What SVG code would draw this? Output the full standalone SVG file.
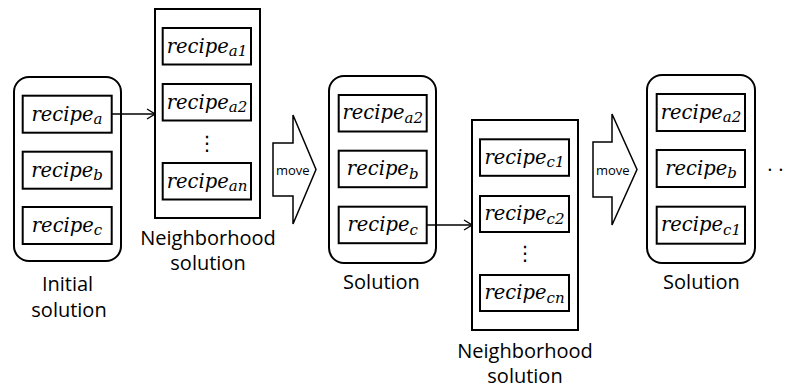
<svg xmlns="http://www.w3.org/2000/svg" width="788" height="388" viewBox="0 0 788 388">
<defs>
<style>
.outer{fill:#fff;stroke:#000;stroke-width:2}
.box{fill:#fff;stroke:#000;stroke-width:2}
.r{font-family:"DejaVu Serif","Liberation Serif",serif;font-style:italic;font-size:19.5px;text-anchor:middle;fill:#000}
.s{font-size:15px}
.lbl{font-family:"Open Sans","Liberation Sans",sans-serif;font-size:20px;text-anchor:middle;fill:#000}
.mv{font-family:"Open Sans","Liberation Sans",sans-serif;font-size:13px;fill:#000}
.move{fill:#fff;stroke:#000;stroke-width:1.5;stroke-linejoin:miter}
.conn{stroke:#000;stroke-width:1.3;fill:none}
.vd{font-family:"DejaVu Sans",sans-serif;font-size:20px;text-anchor:middle;fill:#000}
</style>
<marker id="ah" markerWidth="10" markerHeight="12" refX="9" refY="6" orient="auto" markerUnits="userSpaceOnUse">
<path d="M1,1 L9,6 L1,11" fill="none" stroke="#000" stroke-width="1.3"/>
</marker>
</defs>
<rect width="788" height="388" fill="#fff"/>

<g id="initial">
<rect class="outer" x="14" y="77" width="107" height="184" rx="15"/>
<rect class="box" x="22.7" y="95.7" width="89" height="37"/>
<text class="r" x="67" y="120.5">recipe<tspan class="s" dy="3.5">a</tspan></text>
<rect class="box" x="22.7" y="151.7" width="89" height="37"/>
<text class="r" x="67" y="176.5">recipe<tspan class="s" dy="3.5">b</tspan></text>
<rect class="box" x="22.7" y="207" width="89" height="37"/>
<text class="r" x="67" y="231.8">recipe<tspan class="s" dy="3.5">c</tspan></text>
<text class="lbl" x="67.5" y="291">Initial</text>
<text class="lbl" x="69" y="316.5">solution</text>
</g>

<g id="neighborhood1">
<rect class="outer" x="155" y="9" width="105" height="209"/>
<rect class="box" x="162.7" y="28" width="88.3" height="36.5"/>
<text class="r" x="207" y="52.5">recipe<tspan class="s" dy="3.5">a1</tspan></text>
<rect class="box" x="162.7" y="84" width="88.3" height="36.5"/>
<text class="r" x="207" y="108.5">recipe<tspan class="s" dy="3.5">a2</tspan></text>
<text class="vd" x="207" y="150">⋮</text>
<rect class="box" x="162.7" y="163" width="88.3" height="36.5"/>
<text class="r" x="207" y="187.5">recipe<tspan class="s" dy="3.5">an</tspan></text>
<text class="lbl" x="208" y="245">Neighborhood</text>
<text class="lbl" x="208" y="270">solution</text>
</g>

<g id="move1">
<polygon class="move" points="273,143 293,143 293,115 316,169.5 293,224 293,196 273,196"/>
<text class="mv" x="276" y="175">move</text>
</g>

<g id="solution2">
<rect class="outer" x="329" y="76" width="107" height="187" rx="15"/>
<rect class="box" x="338.7" y="95" width="88" height="36.5"/>
<text class="r" x="382.7" y="119">recipe<tspan class="s" dy="3.5">a2</tspan></text>
<rect class="box" x="338.7" y="150.7" width="88" height="36.5"/>
<text class="r" x="382.7" y="175">recipe<tspan class="s" dy="3.5">b</tspan></text>
<rect class="box" x="338.7" y="206.7" width="88" height="36.5"/>
<text class="r" x="382.7" y="231">recipe<tspan class="s" dy="3.5">c</tspan></text>
<text class="lbl" x="381.5" y="289">Solution</text>
</g>

<g id="neighborhood2">
<rect class="outer" x="472" y="120" width="106" height="210"/>
<rect class="box" x="480" y="139.3" width="89" height="36.5"/>
<text class="r" x="524.5" y="163.8">recipe<tspan class="s" dy="3.5">c1</tspan></text>
<rect class="box" x="480" y="196" width="89" height="36"/>
<text class="r" x="524.5" y="220.2">recipe<tspan class="s" dy="3.5">c2</tspan></text>
<text class="vd" x="525" y="260">⋮</text>
<rect class="box" x="480" y="275" width="89" height="36"/>
<text class="r" x="524.5" y="299.2">recipe<tspan class="s" dy="3.5">cn</tspan></text>
<text class="lbl" x="525" y="358">Neighborhood</text>
<text class="lbl" x="525" y="382.5">solution</text>
</g>

<g id="move2">
<polygon class="move" points="593,142 612,142 612,114 637,169.5 612,225 612,197 593,197"/>
<text class="mv" x="596" y="175">move</text>
</g>

<g id="solution3">
<rect class="outer" x="647" y="75" width="108" height="188" rx="15"/>
<rect class="box" x="656.7" y="94" width="88.3" height="37"/>
<text class="r" x="701" y="118.5">recipe<tspan class="s" dy="3.5">a2</tspan></text>
<rect class="box" x="656.7" y="150" width="88.3" height="37"/>
<text class="r" x="701" y="174.5">recipe<tspan class="s" dy="3.5">b</tspan></text>
<rect class="box" x="656.7" y="206.7" width="88.3" height="37"/>
<text class="r" x="701" y="231.2">recipe<tspan class="s" dy="3.5">c1</tspan></text>
<text class="lbl" x="701.5" y="289">Solution</text>
</g>

<g id="ellipsis">
<text class="lbl" x="767.3" y="170.5" style="text-anchor:start;letter-spacing:5.7px">..</text>
</g>

<g id="connectors">
<line class="conn" x1="111.7" y1="114" x2="155" y2="114" marker-end="url(#ah)"/>
<line class="conn" x1="426.7" y1="225" x2="472" y2="225" marker-end="url(#ah)"/>
</g>
</svg>
